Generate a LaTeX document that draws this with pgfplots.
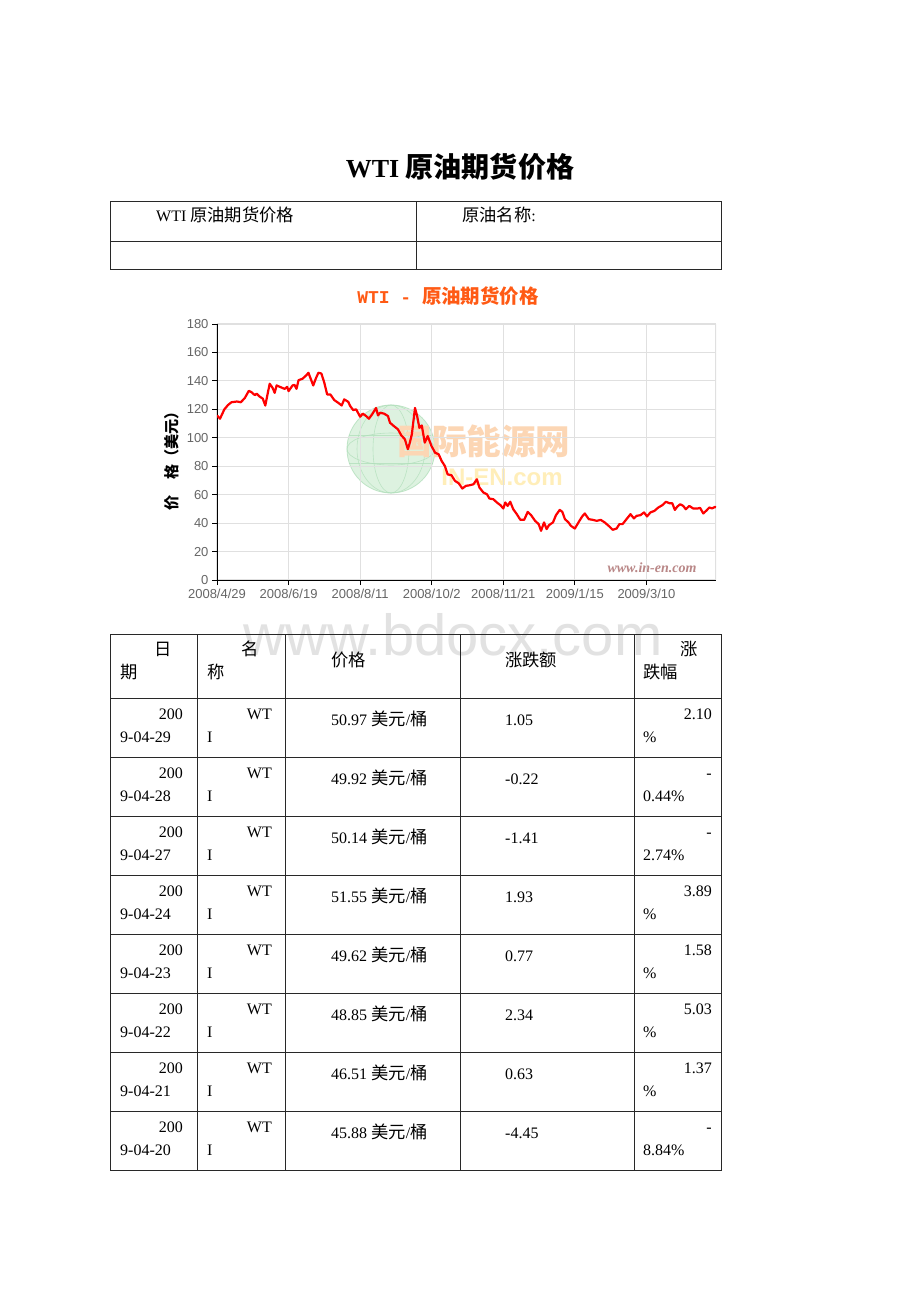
\documentclass[border=0pt]{standalone}
\usepackage{pgfplots}
\usepackage{pgfplotstable}
\pgfplotsset{compat=1.18}
\usepackage{fontspec}
\setmainfont{Liberation Serif}
\newfontfamily\cjk[Scale=1.08]{Noto Sans CJK SC}
\newfontfamily\sans{Liberation Sans}
\newfontfamily\mono{Liberation Mono}
\definecolor{wtired}{RGB}{255,0,0}
\definecolor{titleorange}{RGB}{255,90,20}
\definecolor{gridgray}{RGB}{224,224,224}
\definecolor{ticktext}{RGB}{102,102,102}
\definecolor{globe}{RGB}{210,238,214}
\definecolor{globeline}{RGB}{175,222,185}
\definecolor{wmorange}{RGB}{252,214,180}
\definecolor{wmyellow}{RGB}{255,238,185}
\definecolor{wmred}{RGB}{185,135,135}
\definecolor{bdgray}{RGB}{226,226,226}
\definecolor{rule}{RGB}{40,40,40}

% trading-day index, price (USD/bbl), 2008-04-29 .. 2009-04-29
\pgfplotstableread{
idx price
0 115.7
1.5 113.4
3.7 120
5.5 123
7.3 125
10 125.5
12 125
14 128
16 133
17.4 132
19 130
20 131
21.4 129
23 127.6
24.3 122.7
25.2 129
26.5 138
28 135
29 131.6
30 136.8
32 135.6
34 134.4
35.3 135.8
36 132.8
38 136.8
39 137.2
40 134.4
41 140.5
43 141.5
44.8 143.8
46 145.7
47 142
48.4 136.8
49.8 142
51 145.7
52.5 145.2
54 138.6
55.4 130.5
57 130.5
59 126.5
61 124.6
62.7 122.7
64 127
66 125.3
67 122.3
68.5 119.5
70 120
72 114.8
73.3 117
75 115.3
76.4 113.4
78 116.4
80 121
81 115.7
82 117.6
84 117
86 115.3
87 110.6
89 108.2
91 106
92.7 101.7
94.5 99
96 92
97 96.6
98 102.4
99.6 121
100.7 115
101.8 107
103 108.7
104.5 96.6
106 101.2
107.9 94.2
109.7 89.5
111.5 88.4
113 83.7
114.6 80.2
116 74.3
118 73.6
119.7 69.7
121.6 68
123.4 64.3
125.2 66.2
127 66.6
129 67.3
130.7 70.8
132 65
134 61.5
135.8 60.3
137 57.3
139 56.8
140.8 54.5
142.6 52.6
144 50.3
145 54.5
146.2 52.1
147.5 55
149 49.8
150.8 46.3
152.6 42.3
154.5 42.3
156.3 47.9
158 45.6
160 41.6
161.8 39.3
163 34.6
164.5 40.5
165.8 35.8
167 38.6
169 40.5
170.5 45.6
172.4 49.3
173.7 47.9
175 42.8
176.8 40.5
178 38.1
180 36.2
182 40.9
183.7 44.7
185 46.8
187 42.8
189 42.3
191 41.6
193 42.3
195 40.5
197.4 37.6
199 35.3
201 36.2
202.4 39.3
204 39.3
206 42.8
208 46.3
209.7 43.3
211 45.1
213 45.6
214.8 47.5
216.3 44.7
218 47.5
220 48.6
222 51
224 52.6
225.8 55
227.6 54
229 54
230.3 49.3
231.6 51.7
233 53.3
234.5 52.1
235.8 49.8
237.6 52.1
239.5 50.3
241.8 50.3
243 50.7
244.6 46.8
246 48.6
247.7 51
249 50.3
250.5 51.4
251 51
}\wti

\begin{document}
\begin{tikzpicture}
\begin{scope}[x=1pt,y=-1pt]
\fill[white] (0,0) rectangle (920,1302);
% page title
\node[anchor=base, inner sep=0, font=\fontsize{26}{26}\selectfont\bfseries] at (460,177) {WTI {\cjk\bfseries 原油期货价格}};
% top table
\draw[rule, line width=0.8pt] (110,201) rectangle (721,269);
\draw[rule, line width=0.8pt] (110,241) -- (721,241);
\draw[rule, line width=0.8pt] (416,201) -- (416,269);
\node[anchor=base west, inner sep=0, font=\fontsize{16}{16}\selectfont] at (156,221) {WTI {\cjk 原油期货价格}};
\node[anchor=base west, inner sep=0, font=\fontsize{16}{16}\selectfont] at (462,221) {{\cjk 原油名称}:};
% chart title
\node[anchor=base, inner sep=0, text=titleorange, font=\fontsize{18}{18}\selectfont\bfseries] at (448,303) {{\mono\bfseries WTI - }{\cjk\bfseries 原油期货价格}};
% watermark of the chart
\begin{scope}[opacity=0.75]
\fill[globe] (391,449) circle (44);
\draw[globeline, line width=0.8pt] (391,449) circle (44);
\draw[globeline, line width=0.6pt] (391,449) ellipse (18 and 44);
\draw[globeline, line width=0.6pt] (391,449) ellipse (34 and 44);
\draw[globeline, line width=0.6pt] (391,449) ellipse (44 and 16);
\draw[globeline, line width=0.6pt] (349,435) -- (433,435);
\draw[globeline, line width=0.6pt] (349,463) -- (433,463);
\end{scope}
\node[text=wmorange, inner sep=0, font=\cjk\bfseries\fontsize{32}{32}\selectfont] at (484,441) {国际能源网};
\node[text=wmyellow, inner sep=0, font=\sans\bfseries\fontsize{24}{24}\selectfont] at (502,477) {IN-EN.com};
\node[text=wmred, inner sep=0, font=\bfseries\itshape\fontsize{14}{14}\selectfont] at (652,568) {www.in-en.com};
% page watermark
\node[anchor=base, inner sep=0, text=bdgray, font=\sans\fontsize{58}{58}\selectfont] at (453,655) {www.bdocx.com};
% bottom table
\draw[rule, line width=0.8pt] (110,634) rectangle (721,1170);
\foreach \yy in {698,757,816,875,934,993,1052,1111}
  \draw[rule, line width=0.8pt] (110,\yy) -- (721,\yy);
\foreach \xx in {197,285,460,634}
  \draw[rule, line width=0.8pt] (\xx,634) -- (\xx,1170);
\begin{scope}[every node/.style={inner sep=0, font=\fontsize{16}{16}\selectfont}]
\node[anchor=base east] at (172,655) {\cjk 日};
\node[anchor=base west] at (120,678) {\cjk 期};
\node[anchor=base east] at (259,655) {\cjk 名};
\node[anchor=base west] at (207,678) {\cjk 称};
\node[anchor=base west] at (331,666) {\cjk 价格};
\node[anchor=base west] at (505,666) {\cjk 涨跌额};
\node[anchor=base east] at (698,655) {\cjk 涨};
\node[anchor=base west] at (643,678) {\cjk 跌幅};
\foreach \t/\db/\p/\c/\qa/\qb in {
  698/9-04-29/50.97/1.05/2.10/\%,
  757/9-04-28/49.92/-0.22/-/0.44\%,
  816/9-04-27/50.14/-1.41/-/2.74\%,
  875/9-04-24/51.55/1.93/3.89/\%,
  934/9-04-23/49.62/0.77/1.58/\%,
  993/9-04-22/48.85/2.34/5.03/\%,
  1052/9-04-21/46.51/0.63/1.37/\%,
  1111/9-04-20/45.88/-4.45/-/8.84\%}{
  \node[anchor=base east] at (183,{\t+21}) {200};
  \node[anchor=base west] at (120,{\t+44}) {\db};
  \node[anchor=base east] at (272,{\t+21}) {WT};
  \node[anchor=base west] at (207,{\t+44}) {I};
  \node[anchor=base west] at (331,{\t+27}) {\p\ {\cjk 美元}/{\cjk 桶}};
  \node[anchor=base west] at (505,{\t+27}) {\c};
  \node[anchor=base east] at (712,{\t+21}) {\qa};
  \node[anchor=base west] at (643,{\t+44}) {\qb};
}
\end{scope}
\end{scope}

\begin{axis}[
  at={(217pt,-580pt)}, anchor=south west,
  scale only axis, width=499pt, height=256pt,
  xmin=0, xmax=251, ymin=0, ymax=180,
  axis lines*=left,
  axis line style={black, line width=1pt},
  xtick={0,36,...,216},
  xticklabels={2008/4/29,2008/6/19,2008/8/11,2008/10/2,2008/11/21,2009/1/15,2009/3/10},
  ytick={0,20,...,180},
  grid=major,
  major grid style={gridgray, line width=1.2pt},
  tick align=outside, major tick length=5pt,
  tick style={black, line width=0.8pt},
  ticklabel style={font=\sans\fontsize{13}{13}\selectfont, text=ticktext},
  xticklabel style={yshift=-1pt},
  /pgf/number format/assume math mode=true,
  ylabel={\cjk\bfseries 价　格（美元）},
  ylabel style={at={(axis description cs:-0.09,0.48)}, anchor=center, font=\fontsize{14}{14}\selectfont},
]
\draw[gridgray, line width=1.2pt] (rel axis cs:1,0) -- (rel axis cs:1,1);
\addplot[wtired, line width=2.2pt, line join=round] table[x=idx, y=price] {\wti};
\end{axis}
\end{tikzpicture}
\end{document}
